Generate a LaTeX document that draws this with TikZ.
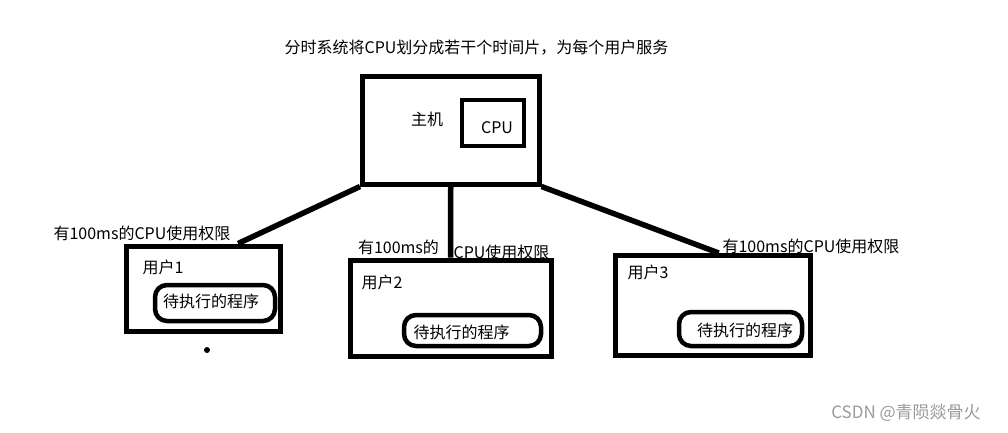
\documentclass[tikz,border=0pt]{standalone}
\usepackage{fontspec}
\setmainfont{Noto Sans CJK SC}
\usepackage{tikz}
\usetikzlibrary{calc}
\definecolor{tsInk}{HTML}{000000}
\definecolor{tsMark}{HTML}{9A9A9A}
\tikzset{
  frame/.style={rectangle, draw=tsInk, line width=5pt, inner sep=0pt},
  cpubox/.style={frame, line width=4pt},
  prog/.style={rectangle, rounded corners=12pt, draw=tsInk, line width=4.5pt, inner sep=0pt},
  txt/.style={inner sep=0pt, font=\fontsize{16}{18}\selectfont},
  wmarktxt/.style={inner sep=0pt, text=tsMark, font=\fontsize{17}{19}\selectfont},
  link/.style={draw=tsInk, line width=5.5pt},
}

\begin{document}
\begin{tikzpicture}[x=1pt, y=-1pt]
  \useasboundingbox (0,0) rectangle (1008,432);

  \node[txt] (title) at (476.5,48) {分时系统将CPU划分成若干个时间片，为每个用户服务};

  % host with its cpu
  \node[frame, minimum width=176.5pt, minimum height=107.5pt] (host) at (450.75,130.25) {};
  \node[txt] (hostname) at (427,119) {主机};
  \node[cpubox, minimum width=62pt, minimum height=46pt] (cpu) at (493,123) {};
  \node[txt] (cputxt) at (497,128) {CPU};

  % three users
  \node[frame, minimum width=153.5pt, minimum height=85.5pt] (user1) at (203.25,288.75) {};
  \node[frame, minimum width=201pt, minimum height=96pt] (user2) at (450.5,308) {};
  \node[frame, minimum width=194.5pt, minimum height=100pt] (user3) at (712.75,305.5) {};
  \node[txt] (name1) at (163,267) {用户1};
  \node[txt] (name2) at (382,282) {用户2};
  \node[txt] (name3) at (648,272) {用户3};

  \node[prog, minimum width=120pt, minimum height=36pt] (prog1) at (215,303) {};
  \node[prog, minimum width=137pt, minimum height=31pt] (prog2) at (472.5,330.5) {};
  \node[prog, minimum width=123pt, minimum height=34pt] (prog3) at (740.5,329) {};
  \node[txt] (task1) at (211,301) {待执行的程序};
  \node[txt] (task2) at (461.5,332) {待执行的程序};
  \node[txt] (task3) at (745,330) {待执行的程序};

  \node[txt] (slice1) at (142,233) {有100ms的CPU使用权限};
  \node[txt] (slice2a) at (398.5,247) {有100ms的};
  \node[txt] (slice2b) at (501.5,252) {CPU使用权限};
  \node[txt] (slice3) at (811,246) {有100ms的CPU使用权限};

  \node[circle, fill=tsInk, inner sep=0pt, minimum size=6pt] (dot) at (207,350) {};

  \draw[link] (host.south west) -- ($(user1.north west)!0.72!(user1.north east)$);
  \draw[link] (host.south) -- (user2.north);
  \draw[link] (host.south east) -- ($(user3.north west)!0.53!(user3.north east)$);

  \node[wmarktxt] (wmark) at (906,413) {CSDN @青陨燚骨火};
\end{tikzpicture}
\end{document}
